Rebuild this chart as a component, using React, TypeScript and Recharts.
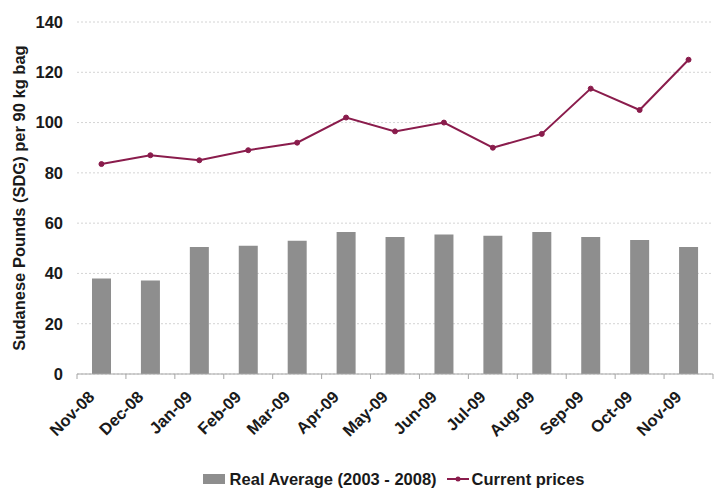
import React from 'react';
import { ComposedChart, Bar, Line, XAxis, YAxis, CartesianGrid, Legend } from 'recharts';

const months = ['Nov-08', 'Dec-08', 'Jan-09', 'Feb-09', 'Mar-09', 'Apr-09', 'May-09', 'Jun-09', 'Jul-09', 'Aug-09', 'Sep-09', 'Oct-09', 'Nov-09'];
const realAverage = [38, 37.2, 50.5, 51, 53, 56.5, 54.5, 55.5, 55, 56.5, 54.5, 53.3, 50.5];
const currentPrices = [83.5, 87, 85, 89, 92, 102, 96.5, 100, 90, 95.5, 113.5, 105, 125];
const yTicks = [0, 20, 40, 60, 80, 100, 120, 140];

const data = months.map((m, i) => ({ month: m, real: realAverage[i], current: currentPrices[i] }));

const FONT = '"Liberation Sans", Arial, sans-serif';
const FS = 16.5;
const BAR_COLOR = '#8e8e8e';
const LINE_COLOR = '#8a1c4c';
const AXIS_COLOR = '#a6a6a6';
const TEXT_COLOR = '#1a1a1a';

const XTick = (props: any) => {
  const { x, y, payload, index, width, visibleTicksCount } = props;
  const half = width / visibleTicksCount / 2;
  const isLast = index === visibleTicksCount - 1;
  const ax = x - 6;
  const ay = y + 24;
  return (
    <g>
      <line x1={x - half} y1={y} x2={x - half} y2={y + 5} stroke={AXIS_COLOR} />
      {isLast && <line x1={x + half} y1={y} x2={x + half} y2={y + 5} stroke={AXIS_COLOR} />}
      <text
        x={ax}
        y={ay}
        transform={`rotate(-45, ${ax}, ${ay})`}
        textAnchor="end"
        fontFamily={FONT}
        fontWeight="bold"
        fontSize={FS}
        fill={TEXT_COLOR}
      >
        {payload.value}
      </text>
    </g>
  );
};

const YLabel = (props: any) => {
  const { viewBox } = props;
  const cx = viewBox.x + 25;
  const cy = viewBox.y + viewBox.height / 2;
  return (
    <text
      x={cx}
      y={cy}
      transform={`rotate(-90, ${cx}, ${cy})`}
      textAnchor="middle"
      fontFamily={FONT}
      fontWeight="bold"
      fontSize={FS}
      fill={TEXT_COLOR}
    >
      Sudanese Pounds (SDG) per 90 kg bag
    </text>
  );
};

const LegendContent = () => (
  <div
    style={{
      display: 'flex',
      justifyContent: 'center',
      alignItems: 'center',
      fontFamily: FONT,
      fontWeight: 'bold',
      fontSize: FS,
      lineHeight: '20px',
      color: TEXT_COLOR,
    }}
  >
    <span style={{ display: 'inline-block', width: 22, height: 10, background: BAR_COLOR, marginRight: 5 }} />
    <span style={{ marginRight: 10 }}>Real Average (2003 - 2008)</span>
    <svg width={22} height={10} style={{ marginRight: 3 }}>
      <line x1={0} y1={5} x2={22} y2={5} stroke={LINE_COLOR} strokeWidth={2} />
      <circle cx={11} cy={5} r={2.5} fill={LINE_COLOR} />
    </svg>
    <span>Current prices</span>
  </div>
);

export default function App() {
  return (
    <div style={{ position: 'absolute', left: 0, top: 0, background: '#fff' }}>
      <ComposedChart
        width={715}
        height={492}
        data={data}
        margin={{ top: 22, right: 2, bottom: 0, left: 0 }}
        barSize={19}
      >
        <CartesianGrid vertical={false} stroke="#d4d4d4" strokeDasharray="2 2" />
        <XAxis
          dataKey="month"
          height={98}
          interval={0}
          tickSize={0}
          tickMargin={0}
          tickLine={false}
          axisLine={{ stroke: AXIS_COLOR }}
          tick={<XTick />}
        />
        <YAxis
          width={77}
          domain={[0, 140]}
          ticks={yTicks}
          axisLine={false}
          tickLine={false}
          tickMargin={8}
          tick={{ fontFamily: FONT, fontWeight: 'bold', fontSize: FS, fill: TEXT_COLOR }}
          label={<YLabel />}
        />
        <Legend
          content={<LegendContent />}
          wrapperStyle={{ position: 'absolute', top: 469, left: 0, width: 715, paddingLeft: 72, boxSizing: 'border-box' }}
        />
        <Bar dataKey="real" name="Real Average (2003 - 2008)" fill={BAR_COLOR} isAnimationActive={false} />
        <Line
          dataKey="current"
          name="Current prices"
          stroke={LINE_COLOR}
          strokeWidth={2}
          dot={{ r: 2.5, fill: LINE_COLOR, stroke: LINE_COLOR, strokeWidth: 1 }}
          isAnimationActive={false}
        />
      </ComposedChart>
    </div>
  );
}
